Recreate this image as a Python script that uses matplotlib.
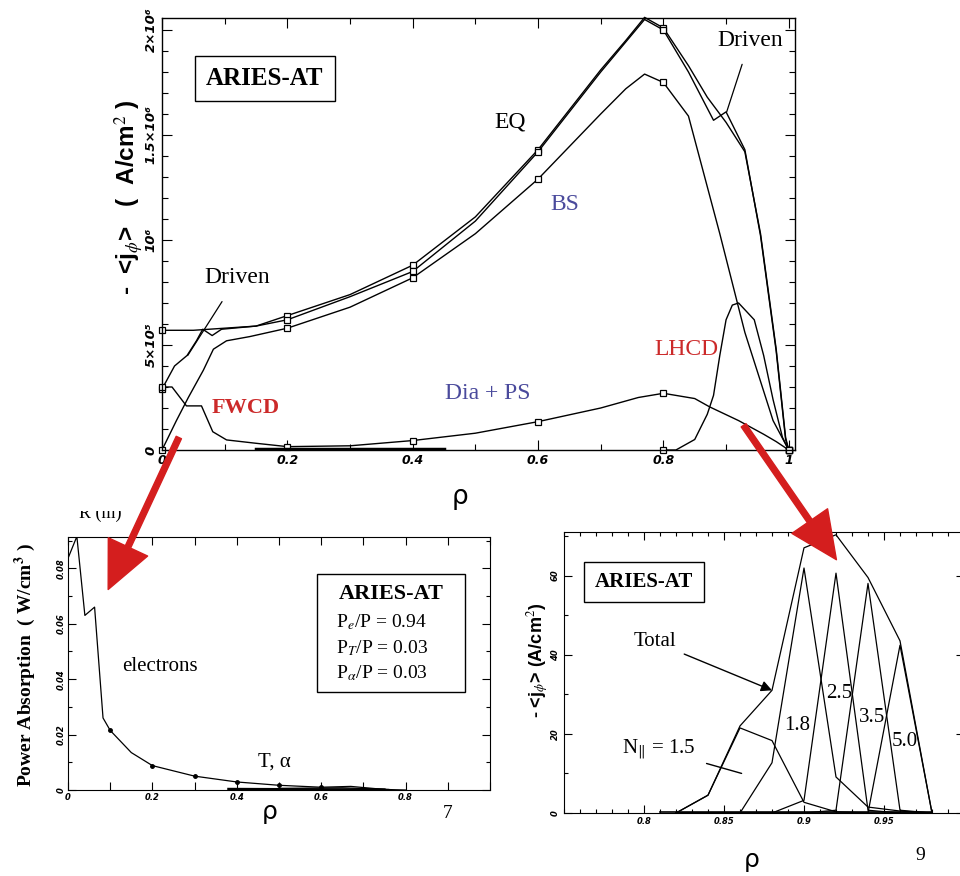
import numpy as np
import matplotlib.pyplot as plt
from matplotlib.patches import FancyArrowPatch, Rectangle
from matplotlib.ticker import MultipleLocator

plt.rcParams['mathtext.fontset'] = 'stix'
plt.rcParams['font.family'] = ['Liberation Serif', 'DejaVu Serif']

W, H = 960, 876


def rect(l, t, r, b):
    # pixel box (from top-left) -> figure fraction rect
    return [l / W, 1 - b / H, (r - l) / W, (b - t) / H]


def fp(x, y):
    return (x / W, 1 - y / H)


def marks_at(r, where):
    r = np.asarray(r)
    return list(np.flatnonzero(np.isclose(r[:, None], where).any(axis=1)))


# ---- main panel: current density profiles (units of 1e6 A/cm^2) ----
rho_eq = [0, 0.05, 0.1, 0.15, 0.2, 0.3, 0.4, 0.5, 0.6, 0.65, 0.7, 0.74, 0.77,
          0.8, 0.84, 0.87, 0.9, 0.93, 0.955, 0.98, 0.995, 1.0]
j_eq = [0.57, 0.57, 0.58, 0.59, 0.64, 0.74, 0.88, 1.11, 1.43, 1.62, 1.81, 1.95,
        2.06, 2.01, 1.83, 1.68, 1.56, 1.42, 1.03, 0.48, 0.06, 0.0]

rho_tot = [0, 0.02, 0.04, 0.055, 0.065, 0.08, 0.095, 0.15, 0.2, 0.3, 0.4, 0.5,
           0.6, 0.7, 0.77, 0.8, 0.84, 0.88, 0.9, 0.93, 0.955, 0.98, 0.995, 1.0]
j_tot = [0.29, 0.40, 0.45, 0.52, 0.575, 0.545, 0.575, 0.59, 0.62, 0.73, 0.85,
         1.09, 1.42, 1.80, 2.05, 2.00, 1.80, 1.57, 1.61, 1.43, 1.02, 0.47, 0.05, 0.0]

rho_bs = [0, 0.023, 0.042, 0.066, 0.082, 0.103, 0.14, 0.2, 0.3, 0.4, 0.5, 0.6,
          0.7, 0.74, 0.77, 0.8, 0.84, 0.89, 0.93, 0.975, 1.0]
j_bs = [0, 0.14, 0.25, 0.38, 0.48, 0.52, 0.54, 0.58, 0.68, 0.82, 1.03, 1.29,
        1.60, 1.72, 1.79, 1.75, 1.59, 1.03, 0.56, 0.14, 0.0]

rho_dia = [0, 0.016, 0.039, 0.063, 0.081, 0.103, 0.15, 0.2, 0.3, 0.4, 0.5, 0.6,
           0.7, 0.76, 0.8, 0.85, 0.874, 0.92, 0.96, 0.98, 1.0]
j_dia = [0.30, 0.30, 0.21, 0.21, 0.087, 0.048, 0.032, 0.016, 0.02, 0.045, 0.08,
         0.135, 0.20, 0.25, 0.27, 0.245, 0.205, 0.14, 0.075, 0.04, 0.0]

rho_lhcd = [0.8, 0.82, 0.85, 0.87, 0.88, 0.89, 0.9, 0.91, 0.92, 0.945, 0.96,
            0.975, 0.99, 1.0]
j_lhcd = [0, 0, 0.05, 0.17, 0.26, 0.45, 0.62, 0.69, 0.70, 0.62, 0.45, 0.24,
          0.06, 0.0]

rho_base = [0.15, 0.45]
j_base = [0.004, 0.004]

main_marks = [0, 0.2, 0.4, 0.6, 0.8, 1.0]

# ---- lower left: FWCD power absorption ----
rho_pw = [0, 0.021, 0.04, 0.063, 0.083, 0.1, 0.15, 0.2, 0.3, 0.4, 0.5, 0.6,
          0.67, 0.75, 0.8]
p_e = [0.0836, 0.0915, 0.063, 0.066, 0.026, 0.0215, 0.0135, 0.0088, 0.0050,
       0.0029, 0.0017, 0.0010, 0.0013, 0.0002, 0.0]
rho_ti = [0.38, 0.55, 0.75]
p_ti = [0.0004, 0.0003, 0.0002]
rho_al = [0.5, 0.65, 0.76]
p_al = [0.0006, 0.0008, 0.0002]

# ---- lower right: LHCD current by N_parallel (A/cm^2) ----
rho_lh = [0.82, 0.84, 0.86, 0.88, 0.90, 0.92, 0.94, 0.96, 0.98]
lh_total = [0, 4.5, 22.0, 31.0, 67.0, 70.3, 59.5, 43.5, 0]
lh_n15 = [0, 4.5, 21.5, 18.3, 2.7, 0.3, 0, 0, 0]
lh_n18 = [0, 0, 0, 12.7, 61.9, 9.1, 1.5, 0.5, 0]
lh_n25 = [0, 0, 0, 0, 3.2, 60.6, 0.7, 0, 0]
lh_n35 = [0, 0, 0, 0, 0, 0.7, 58.0, 0.7, 0]
lh_n50 = [0, 0, 0, 0, 0, 0, 0, 42.4, 0]
rho_lh_base = [0.81, 0.98]
lh_base = [0.3, 0.3]

red = '#cc2a2a'
blue = '#4a4a9c'
tick_font = dict(family='DejaVu Sans', style='italic', weight='bold')

fig = plt.figure(figsize=(9.6, 8.76), dpi=100)

# =============== main panel ===============
ax = fig.add_axes(rect(162, 18, 795, 450))
ms = dict(marker='s', ms=5, mfc='white', mec='k', mew=0.9)
for r, j in [(rho_eq, j_eq), (rho_tot, j_tot), (rho_bs, j_bs), (rho_dia, j_dia)]:
    ax.plot(r, np.array(j) * 1e6, color='k', lw=1.0, clip_on=False,
            markevery=marks_at(r, main_marks), **ms)
ax.plot(rho_lhcd, np.array(j_lhcd) * 1e6, color='k', lw=1.0, clip_on=False,
        markevery=marks_at(rho_lhcd, main_marks), **ms)
ax.plot(rho_base, np.array(j_base) * 1e6, color='k', lw=2.5)
ax.set_xlim(0, 1.01)
ax.set_ylim(0, 2.057e6)
ax.set_xticks([0, 0.2, 0.4, 0.6, 0.8, 1.0])
ax.set_xticklabels(['0', '0.2', '0.4', '0.6', '0.8', '1'], **tick_font, fontsize=9)
ax.set_yticks([0, 5e5, 1e6, 1.5e6, 2e6])
ax.set_yticklabels(['0', '5×10⁵', '10⁶', '1.5×10⁶', '2×10⁶'], **tick_font,
                   fontsize=9.5, rotation=90, va='center')
ax.xaxis.set_minor_locator(MultipleLocator(0.1))
ax.yaxis.set_minor_locator(MultipleLocator(1e5))
ax.tick_params(which='both', direction='in', top=True, right=True, width=0.8)
ax.tick_params(which='major', length=7, pad=3)
ax.tick_params(which='minor', length=4)
for s in ax.spines.values():
    s.set_linewidth(1.0)

ax.text(0.164, 1.77e6, 'ARIES-AT', fontsize=18, weight='bold', ha='center',
        va='center', bbox=dict(boxstyle='square,pad=0.45', fc='white', ec='k', lw=1))
ax.text(0.555, 1.56e6, 'EQ', fontsize=17, ha='center', va='center')
ax.text(0.643, 1.17e6, 'BS', fontsize=17, ha='center', va='center', color=blue)
ax.text(0.836, 0.48e6, 'LHCD', fontsize=17, ha='center', va='center', color=red)
ax.text(0.52, 0.27e6, 'Dia + PS', fontsize=17, ha='center', va='center', color=blue)
ax.text(0.134, 0.20e6, 'FWCD', fontsize=16, ha='center', va='center', color=red,
        weight='bold')
ax.annotate('Driven', xy=(0.901, 1.61e6), xytext=(0.938, 1.95e6), fontsize=17,
            ha='center', va='center',
            arrowprops=dict(arrowstyle='-', lw=0.9, color='k', shrinkA=8, shrinkB=0))
ax.annotate('Driven', xy=(0.041, 0.45e6), xytext=(0.12, 0.82e6), fontsize=17,
            ha='center', va='center',
            arrowprops=dict(arrowstyle='-', lw=0.9, color='k', shrinkA=9, shrinkB=0))
fig.text(*fp(129, 197), r'-  <j$_{\phi}$>   (  A/cm$^{2}$ )', fontsize=17.5,
         family='Liberation Sans', weight='bold', rotation=90, ha='center', va='center')
fig.text(*fp(460, 497), 'ρ', fontsize=19, family='DejaVu Sans', ha='center', va='center')

# =============== lower left panel ===============
ax2 = fig.add_axes(rect(68, 537, 490, 790))
ax2.plot(rho_pw, p_e, color='k', lw=0.9, marker='o', ms=2.5,
         markevery=marks_at(rho_pw, [0.1, 0.2, 0.3, 0.4, 0.5, 0.6]))
ax2.plot(rho_ti, p_ti, color='k', lw=1.6)
ax2.plot(rho_al, p_al, color='k', lw=0.9)
ax2.set_xlim(0, 1)
ax2.set_ylim(0, 0.0913)
ax2.set_xticks(np.round(np.arange(0, 1.01, 0.1), 2))
ax2.set_xticklabels(['0', '', '0.2', '', '0.4', '', '0.6', '', '0.8', '', ''],
                    **tick_font, fontsize=6)
ax2.set_yticks([0, 0.02, 0.04, 0.06, 0.08])
ax2.set_yticklabels(['0', '0.02', '0.04', '0.06', '0.08'], **tick_font,
                    fontsize=6, rotation=90, va='center')
ax2.yaxis.set_minor_locator(MultipleLocator(0.01))
ax2.tick_params(which='both', direction='in', top=True, right=True, width=0.8)
ax2.tick_params(which='major', length=6, pad=2)
ax2.tick_params(which='minor', length=3)
ax2.text(0.218, 0.0444, 'electrons', fontsize=15, ha='center', va='center')
ax2.text(0.488, 0.0102, 'T, α', fontsize=15, ha='center', va='center')
fig.add_artist(Rectangle(fp(317, 692), (465 - 317) / W, (692 - 574) / H,
                         transform=fig.transFigure, fc='white', ec='k', lw=1, zorder=5))
fig.text(*fp(391, 594), 'ARIES-AT', fontsize=16, weight='bold', ha='center',
         va='center', zorder=6)
for t, yy in [('P$_e$/P = 0.94', 622), ('P$_T$/P = 0.03', 648),
              ('P$_\\alpha$/P = 0.03', 673)]:
    fig.text(*fp(336, yy), t, fontsize=14, ha='left', va='center', zorder=6)
fig.text(*fp(25, 665), 'Power Absorption  ( W/cm$^\\mathbf{3}$ )', fontsize=14,
         weight='bold', rotation=90, ha='center', va='center')
fig.text(*fp(100, 513), 'R (m)', fontsize=13, ha='center', va='center')
fig.add_artist(Rectangle(fp(60, 511), 85 / W, 25 / H, transform=fig.transFigure,
                         fc='white', ec='none', zorder=4))
fig.text(*fp(270, 812), 'ρ', fontsize=18, family='DejaVu Sans', ha='center', va='center')
fig.text(*fp(448, 813), '7', fontsize=14, ha='center', va='center')

# =============== lower right panel ===============
ax3 = fig.add_axes(rect(564, 532, 964, 813))
for series in [lh_total, lh_n15, lh_n18, lh_n25, lh_n35, lh_n50]:
    ax3.plot(rho_lh, series, color='k', lw=0.9)
ax3.plot(rho_lh_base, lh_base, color='k', lw=1.2)
ax3.set_xlim(0.75, 1.0)
ax3.set_ylim(0, 71)
ax3.set_xticks([0.8, 0.85, 0.9, 0.95])
ax3.set_xticklabels(['0.8', '0.85', '0.9', '0.95'], **tick_font, fontsize=6)
ax3.set_yticks([0, 20, 40, 60])
ax3.set_yticklabels(['0', '20', '40', '60'], **tick_font, fontsize=6,
                    rotation=90, va='center')
ax3.xaxis.set_minor_locator(MultipleLocator(0.01))
ax3.yaxis.set_minor_locator(MultipleLocator(10))
ax3.tick_params(which='both', direction='in', top=True, right=True, width=0.8)
ax3.tick_params(which='major', length=6, pad=3)
ax3.tick_params(which='minor', length=3)
fig.text(*fp(644, 582), 'ARIES-AT', fontsize=15, weight='bold', ha='center',
         va='center', bbox=dict(boxstyle='square,pad=0.5', fc='white', ec='k', lw=1))
ax3.annotate('Total', xy=(0.88, 31), xytext=fp(655, 642), textcoords='figure fraction',
             fontsize=15, ha='center', va='center',
             arrowprops=dict(arrowstyle='-|>', color='k', lw=1.0, mutation_scale=16,
                             shrinkA=4, shrinkB=0))
ax3.annotate('N$_{\\|}$ = 1.5', xy=(0.861, 10), xytext=fp(659, 750),
             textcoords='figure fraction', fontsize=15, ha='center', va='center',
             arrowprops=dict(arrowstyle='-', color='k', lw=1.0, shrinkA=6, shrinkB=0))
for t, x, y in [('1.8', 797, 725), ('2.5', 839, 693), ('3.5', 872, 717), ('5.0', 905, 742)]:
    fig.text(*fp(x, y), t, fontsize=15, ha='center', va='center')
fig.text(*fp(538, 660), r'- <j$_{\phi}$> (A/cm$^{2}$)', fontsize=13,
         family='Liberation Sans', weight='bold', rotation=90, ha='center', va='center')
fig.text(*fp(752, 860), 'ρ', fontsize=18, family='DejaVu Sans', ha='center', va='center')
fig.text(*fp(920, 855), '9', fontsize=14, ha='center', va='center')

# =============== red arrows ===============
for a, b in [((180, 435), (107, 592)), ((742, 423), (838, 562))]:
    fig.add_artist(FancyArrowPatch(fp(*a), fp(*b), transform=fig.transFigure,
                                   arrowstyle='simple,head_length=1.3,head_width=1.2,tail_width=0.16',
                                   mutation_scale=26, color='#d41e1e', zorder=10))

fig.savefig('out.png', dpi=100)
